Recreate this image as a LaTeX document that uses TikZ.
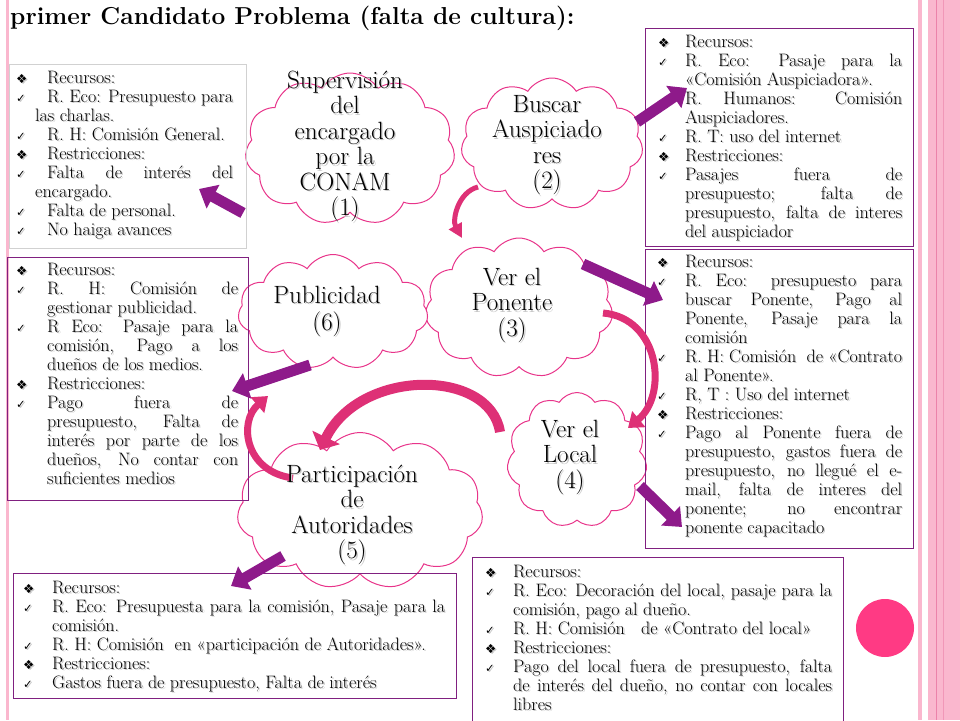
\documentclass[tikz,border=0pt]{standalone}
\usepackage{fontspec}
\newfontfamily\dejavu{DejaVu Sans}
\usetikzlibrary{shapes.symbols,arrows.meta}
\definecolor{boxpurple}{RGB}{128,32,128}
\definecolor{cloudpink}{RGB}{232,52,138}
\definecolor{arrowpurple}{RGB}{142,26,138}
\definecolor{curvepink}{RGB}{222,48,118}
\definecolor{stripepink}{RGB}{250,183,206}
\definecolor{stripedark}{RGB}{236,130,170}
\definecolor{dotpink}{RGB}{255,58,132}
\newdimen\SW \newdimen\TW \newdimen\CI \newdimen\CW
\newcommand\Dm{{\dejavu\fontsize{12.5}{12}\selectfont ❖}}
\newcommand\Ck{{\dejavu\fontsize{11.5}{12}\selectfont ✓}}
\newcommand\Fi[3]{\strut\makebox[\SW][l]{#1}\makebox[\TW][#3]{#2}}
\newcommand\Co[2]{\strut\hspace*{\CI}\makebox[\CW][#2]{#1}}
\newcommand\boxdims[4]{\global\SW=#1pt\relax\global\TW=#2pt\relax\global\CI=#3pt\relax\global\CW=#4pt\relax}
\newcommand\TLtext{%
\Fi{\Dm}{Recursos:}{l}\\
\Fi{\Ck}{R. Eco: Presupuesto para}{s}\\
\Co{las charlas.}{l}\\
\Fi{\Ck}{R. H: Comisión General.}{l}\\
\Fi{\Dm}{Restricciones:}{l}\\
\Fi{\Ck}{Falta de interés del}{s}\\
\Co{encargado.}{l}\\
\Fi{\Ck}{Falta de personal.}{l}\\
\Fi{\Ck}{No haiga avances}{l}}
\newcommand\TRtext{%
\Fi{\Dm}{Recursos:}{l}\\
\Fi{\Ck}{R. Eco: Pasaje para la}{s}\\
\Co{«Comisión Auspiciadora».}{l}\\
\Fi{\Ck}{R. Humanos: Comisión}{s}\\
\Co{Auspiciadores.}{l}\\
\Fi{\Ck}{R. T: uso del internet}{l}\\
\Fi{\Dm}{Restricciones:}{l}\\
\Fi{\Ck}{Pasajes fuera de}{s}\\
\Co{presupuesto; falta de}{s}\\
\Co{presupuesto, falta de interes}{s}\\
\Co{del auspiciador}{l}}
\newcommand\MRtext{%
\Fi{\Dm}{Recursos:}{l}\\
\Fi{\Ck}{R. Eco: presupuesto para}{s}\\
\Co{buscar Ponente, Pago al}{s}\\
\Co{Ponente, Pasaje para la}{s}\\
\Co{comisión}{l}\\
\Fi{\Ck}{R. H: Comisión \ de «Contrato}{s}\\
\Co{al Ponente».}{l}\\
\Fi{\Ck}{R, T : Uso del internet}{l}\\
\Fi{\Dm}{Restricciones:}{l}\\
\Fi{\Ck}{Pago al Ponente fuera de}{s}\\
\Co{presupuesto, gastos fuera de}{s}\\
\Co{presupuesto, no llegué el e-}{s}\\
\Co{mail, falta de interes del}{s}\\
\Co{ponente; no encontrar}{s}\\
\Co{ponente capacitado}{l}}
\newcommand\MLtext{%
\Fi{\Dm}{Recursos:}{l}\\
\Fi{\Ck}{R. H: Comisión de}{s}\\
\Co{gestionar publicidad.}{l}\\
\Fi{\Ck}{R Eco: Pasaje para la}{s}\\
\Co{comisión, Pago a los}{s}\\
\Co{dueños de los medios.}{l}\\
\Fi{\Dm}{Restricciones:}{l}\\
\Fi{\Ck}{Pago fuera de}{s}\\
\Co{presupuesto, Falta de}{s}\\
\Co{interés por parte de los}{s}\\
\Co{dueños, No contar con}{s}\\
\Co{suficientes medios}{l}}
\newcommand\BLtext{%
\Fi{\Dm}{Recursos:}{l}\\
\Fi{\Ck}{R. Eco: Presupuesta para la comisión, Pasaje para la}{s}\\
\Co{comisión.}{l}\\
\Fi{\Ck}{R. H: Comisión \ en «participación de Autoridades».}{l}\\
\Fi{\Dm}{Restricciones:}{l}\\
\Fi{\Ck}{Gastos fuera de presupuesto, Falta de interés}{l}}
\newcommand\BRtext{%
\Fi{\Dm}{Recursos:}{l}\\
\Fi{\Ck}{R. Eco: Decoración del local, pasaje para la}{s}\\
\Co{comisión, pago al dueño.}{l}\\
\Fi{\Ck}{R. H: Comisión \ \ de «Contrato del local»}{l}\\
\Fi{\Dm}{Restricciones:}{l}\\
\Fi{\Ck}{Pago del local fuera de presupuesto, falta}{s}\\
\Co{de interés del dueño, no contar con locales}{s}\\
\Co{libres}{l}}
\tikzset{
  infobox/.style={draw=boxpurple, line width=1pt, anchor=north west, inner sep=0pt},
  graybox/.style={draw=black!18, line width=1pt, anchor=north west, inner sep=0pt},
  infotext/.style={anchor=north west, inner sep=0pt, align=left, font=\fontsize{18}{19}\selectfont},
  shade text/.style={text=black!22, xshift=1.3pt, yshift=-1.3pt},
  cloudsty/.style={cloud, cloud puffs=11, cloud puff arc=115, cloud ignores aspect, draw=cloudpink, fill=white, line width=1pt, inner sep=0pt},
  cloudtext/.style={anchor=north, inner sep=0pt, align=center, font=\fontsize{25}{25.5}\selectfont},
  blockarrow/.style={draw=arrowpurple, line width=11pt, -{Triangle[width=26pt,length=16pt]}},
  curvearrow/.style={draw=curvepink, -{Triangle[width=#1,length=14pt]}},
}
\begin{document}
\begin{tikzpicture}[x=1pt,y=-1pt]
\useasboundingbox (0,0) rectangle (960,720);
% decorations
\fill[stripepink] (6,0) rectangle (9,720);
\fill[stripepink] (918,0) rectangle (922,720);
\fill[stripepink] (928,0) rectangle (960,720);
\draw[stripedark, line width=1pt] (936,0) -- (936,720);
\draw[stripedark!60!stripepink, line width=1pt] (943,0) -- (943,720);
\node[circle, fill=dotpink, minimum size=58pt, inner sep=0pt] (dot) at (885,628) {};
% title
\node[anchor=base west, inner sep=0pt, font=\fontsize{24.5}{28}\selectfont\bfseries] (title) at (10,24) {primer Candidato Problema (falta de cultura):};
% clouds
\node[cloudsty, minimum width=210pt, minimum height=152pt] (k1) at (350,149) {};
\node[cloudsty, minimum width=182pt, minimum height=132pt] (k2) at (552,144) {};
\node[cloudsty, minimum width=188pt, minimum height=140pt] (k3) at (519,308) {};
\node[cloudsty, minimum width=190pt, minimum height=115pt] (k6) at (333,312) {};
\node[cloudsty, minimum width=140pt, minimum height=135pt] (k4) at (577,460) {};
\node[cloudsty, minimum width=246pt, minimum height=157pt] (k5) at (360,511) {};
% boxes
\node[graybox, minimum width=237pt, minimum height=184pt] (bTL) at (9,64) {};
\node[infobox, minimum width=268pt, minimum height=218pt] (bTR) at (645,28) {};
\node[infobox, minimum width=268pt, minimum height=299pt] (bMR) at (645,249) {};
\node[infobox, minimum width=241pt, minimum height=243pt] (bML) at (7,257) {};
\node[infobox, minimum width=443pt, minimum height=125pt] (bBL) at (13,573) {};
\node[infobox, minimum width=371pt, minimum height=170pt] (bBR) at (472,557) {};
% box texts (soft shadow copy first)
\node[infotext, shade text, execute at begin node={\boxdims{31}{186}{19}{198}}] (sTL) at (16,69.7) {\TLtext};
\node[infotext, execute at begin node={\boxdims{31}{186}{19}{198}}] (tTL) at (16,69.7) {\TLtext};
\node[infotext, shade text, execute at begin node={\boxdims{27}{217}{27}{217}}] (sTR) at (658,33.7) {\TRtext};
\node[infotext, execute at begin node={\boxdims{27}{217}{27}{217}}] (tTR) at (658,33.7) {\TRtext};
\node[infotext, shade text, execute at begin node={\boxdims{28}{217}{28}{217}}] (sMR) at (657,253.7) {\MRtext};
\node[infotext, execute at begin node={\boxdims{28}{217}{28}{217}}] (tMR) at (657,253.7) {\MRtext};
\node[infotext, shade text, execute at begin node={\boxdims{31}{191}{31}{191}}] (sML) at (16,261.7) {\MLtext};
\node[infotext, execute at begin node={\boxdims{31}{191}{31}{191}}] (tML) at (16,261.7) {\MLtext};
\node[infotext, shade text, execute at begin node={\boxdims{29}{393}{29}{393}}] (sBL) at (23,579.7) {\BLtext};
\node[infotext, execute at begin node={\boxdims{29}{393}{29}{393}}] (tBL) at (23,579.7) {\BLtext};
\node[infotext, shade text, execute at begin node={\boxdims{28}{319}{28}{319}}] (sBR) at (485,563.7) {\BRtext};
\node[infotext, execute at begin node={\boxdims{28}{319}{28}{319}}] (tBR) at (485,563.7) {\BRtext};
% arrow end points
\coordinate (a1s) at (243,213); \coordinate (a1e) at (199,189);
\coordinate (a2s) at (637,122); \coordinate (a2e) at (687,88);
\coordinate (a3s) at (583,264); \coordinate (a3e) at (663,300);
\coordinate (a4s) at (640,486); \coordinate (a4e) at (682,527);
\coordinate (a5s) at (310,365); \coordinate (a5e) at (232,391);
\coordinate (a6s) at (283,556); \coordinate (a6e) at (231,586);
\draw[blockarrow] (a1s) -- (a1e);
\draw[blockarrow] (a2s) -- (a2e);
\draw[blockarrow] (a3s) -- (a3e);
\draw[blockarrow] (a4s) -- (a4e);
\draw[blockarrow] (a5s) -- (a5e);
\draw[blockarrow] (a6s) -- (a6e);
% curved arrows
\coordinate (c1s) at (478,187); \coordinate (c1e) at (462,238);
\coordinate (c2s) at (603,313); \coordinate (c2e) at (628,428);
\coordinate (c3s) at (500,432); \coordinate (c3e) at (320,450);
\coordinate (c4s) at (293,478); \coordinate (c4e) at (268,396);
\draw[curvearrow=14pt, line width=5pt] (c1s) .. controls (458,192) and (452,220) .. (c1e);
\draw[curvearrow=20pt, line width=7pt] (c2s) .. controls (660,318) and (668,395) .. (c2e);
\draw[curvearrow=30pt, line width=10pt] (c3s) .. controls (490,368) and (360,368) .. (c3e);
\draw[curvearrow=20pt, line width=7pt] (c4s) .. controls (245,472) and (238,422) .. (c4e);
% cloud texts
\node[cloudtext, shade text] (y1) at (345,70.2) {\strut Supervisión\\del\\encargado\\por la\\CONAM\\(1)};
\node[cloudtext] (x1) at (345,70.2) {\strut Supervisión\\del\\encargado\\por la\\CONAM\\(1)};
\node[cloudtext, shade text] (y2) at (547,94.2) {\strut Buscar\\Auspiciado\\res\\(2)};
\node[cloudtext] (x2) at (547,94.2) {\strut Buscar\\Auspiciado\\res\\(2)};
\node[cloudtext, shade text] (y3) at (512,267.2) {\strut Ver el\\Ponente\\(3)};
\node[cloudtext] (x3) at (512,267.2) {\strut Ver el\\Ponente\\(3)};
\node[cloudtext, shade text] (y6) at (327,285.2) {\strut Publicidad\\(6)};
\node[cloudtext] (x6) at (327,285.2) {\strut Publicidad\\(6)};
\node[cloudtext, shade text] (y4) at (570,419.2) {\strut Ver el\\Local\\(4)};
\node[cloudtext] (x4) at (570,419.2) {\strut Ver el\\Local\\(4)};
\node[cloudtext, shade text] (y5) at (352,464.2) {\strut Participación\\de\\Autoridades\\(5)};
\node[cloudtext] (x5) at (352,464.2) {\strut Participación\\de\\Autoridades\\(5)};
\end{tikzpicture}
\end{document}
